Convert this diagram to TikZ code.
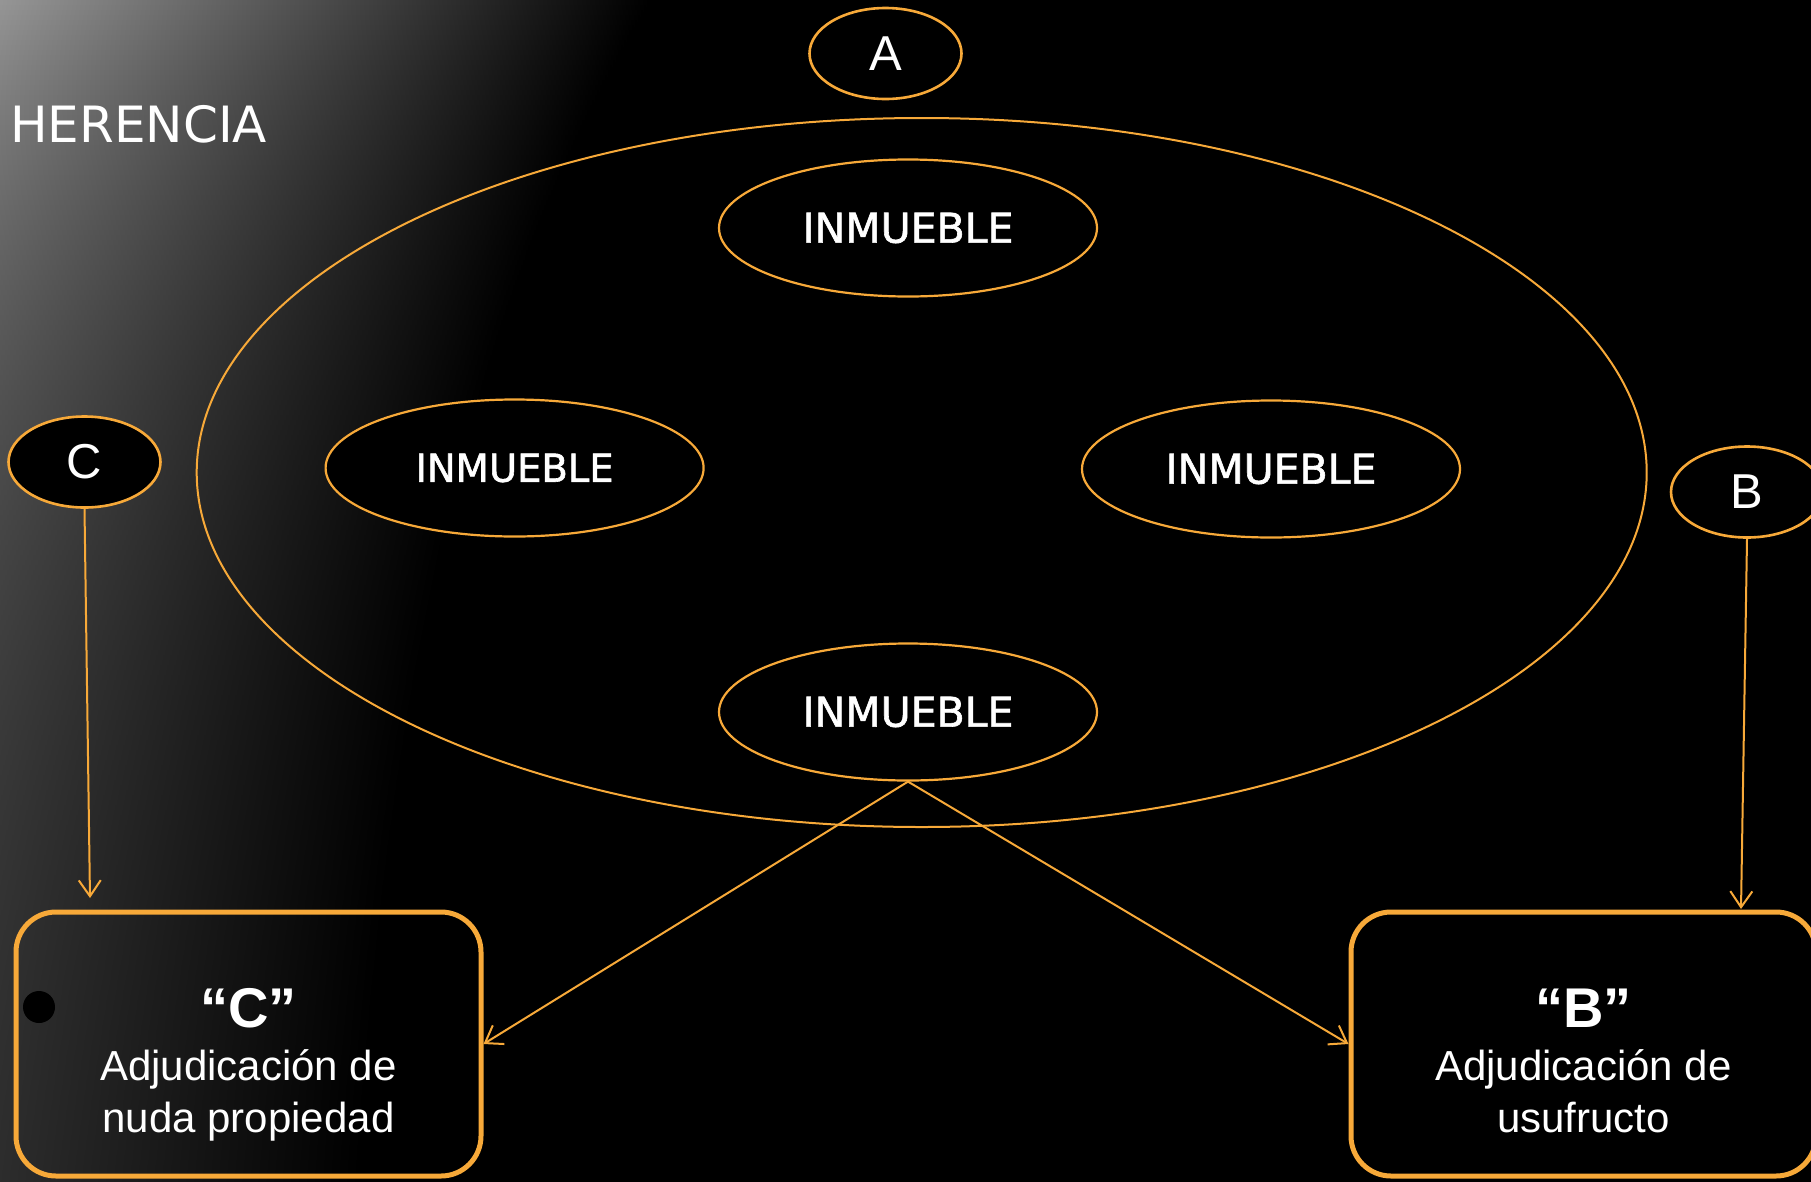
\documentclass[tikz,border=0pt]{standalone}
\usepackage{fontspec}
\setmainfont{Liberation Sans}
\newfontfamily\dvs{DejaVu Sans}
\newfontfamily\inmfont{DejaVu Sans}[FakeBold=1.5]
\usetikzlibrary{shapes.geometric,arrows.meta}
\definecolor{orng}{RGB}{247,169,57}
\tikzset{
  ell/.style={ellipse, draw=orng, line width=2.2pt, fill=black, inner sep=0pt, text=white},
  letter/.style={ell, line width=2.6pt, minimum width=152pt, minimum height=91pt, font=\fontsize{49}{55}\selectfont},
  inm/.style={ell, minimum width=378pt, minimum height=137pt, font=\inmfont\fontsize{41}{46}\selectfont},
  bigell/.style={ellipse, draw=orng, line width=2pt, inner sep=0pt, minimum width=1450pt, minimum height=709pt},
  resbox/.style={draw=orng, line width=5pt, rounded corners=40pt, minimum width=465pt, minimum height=264pt, inner sep=0pt},
  conn/.style={draw=orng, line width=2pt, -{Straight Barb[length=16pt,width=22pt]}},
  boxtitle/.style={text=white, inner sep=0pt, anchor=base, font=\bfseries\fontsize{56}{60}\selectfont},
  boxline/.style={text=white, inner sep=0pt, anchor=base, font=\fontsize{42}{48}\selectfont}
}
\begin{document}
\begin{tikzpicture}[x=1pt,y=-1pt]
\useasboundingbox (0,0) rectangle (1811,1181);
% background: black with a grey glow fading out from the upper-left corner
\fill[black] (-20,-20) rectangle (1831,1201);
\begin{scope}
  \clip (-5,-5) rectangle (1816,1186);
  \foreach \y in {-5,0,...,1185}{
    \pgfmathsetmacro\L{38+112*exp(-(max(\y,0)+2.5)/420)}
    \pgfmathsetmacro\W{320+330*exp(-(max(\y,0)+2.5)/550)}
    \pgfmathsetmacro\gL{\L/255}
    \definecolor{rowc}{gray}{\gL}
    \shade[left color=rowc, right color=black] (-1,\y) rectangle (\W,\y+6);
  }
\end{scope}

\node[anchor=base west, inner sep=0pt, text=white, font=\dvs\fontsize{50}{60}\selectfont] (title) at (10,142) {HERENCIA};

\node[bigell] (big) at (921.7,472.5) {};

\node[letter] (a) at (885.5,53.5) {A};
\node[letter] (b) at (1747,492) {B};
\node[letter] (c) at (84.5,462) {C};

\node[inm] (inm1) at (908,228) {INMUEBLE};
\node[inm, font=\inmfont\fontsize{38.5}{44}\selectfont] (inm2) at (514.6,468) {INMUEBLE};
\node[inm] (inm3) at (1271,469) {INMUEBLE};
\node[inm] (inm4) at (908,712) {INMUEBLE};

\node[resbox] (boxC) at (248.5,1044) {};
\node[resbox] (boxB) at (1583.5,1044) {};

\node[circle, fill=black, minimum size=32pt, inner sep=0pt] (dot) at (39,1007) {};

\node[boxtitle] (tC1) at (248.5,1027) {“C”};
\node[boxline] (tC2) at (248.5,1080) {Adjudicación de};
\node[boxline] (tC3) at (248.5,1132) {nuda propiedad};

\node[boxtitle] (tB1) at (1583.5,1027) {“B”};
\node[boxline] (tB2) at (1583.5,1080) {Adjudicación de};
\node[boxline] (tB3) at (1583.5,1132) {usufructo};

\coordinate (ctip) at (90,898);
\coordinate (btip) at (1741,909);

\draw[conn] (c.south) -- (ctip);
\draw[conn] (b.south) -- (btip);
\draw[conn] (inm4.south) -- (boxC.east);
\draw[conn] (inm4.south) -- (boxB.west);
\end{tikzpicture}
\end{document}
